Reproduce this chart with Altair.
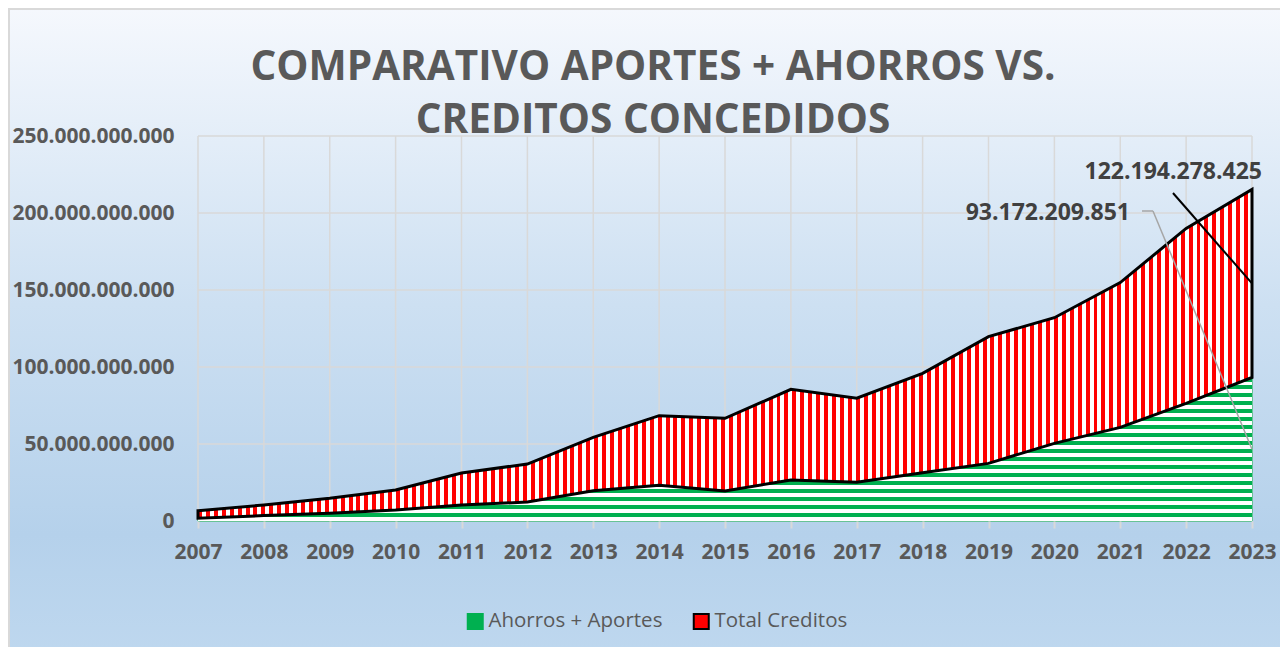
import altair as alt
import pandas as pd

# ---------------- data ----------------
years = list(range(2007, 2024))
ahorros_aportes = [1_800_000_000, 3_500_000_000, 5_000_000_000, 7_100_000_000,
                   10_400_000_000, 12_300_000_000, 19_700_000_000, 23_200_000_000,
                   19_500_000_000, 26_600_000_000, 25_100_000_000, 31_400_000_000,
                   37_400_000_000, 50_400_000_000, 60_800_000_000, 76_400_000_000,
                   93_172_209_851]
total_creditos = [4_900_000_000, 6_900_000_000, 9_700_000_000, 13_000_000_000,
                  20_800_000_000, 24_700_000_000, 34_600_000_000, 45_200_000_000,
                  47_200_000_000, 58_900_000_000, 54_600_000_000, 64_500_000_000,
                  82_300_000_000, 81_600_000_000, 94_000_000_000, 113_600_000_000,
                  122_194_278_425]
series_names = ["Ahorros + Aportes", "Total Creditos"]
y_ticks = [0, 50_000_000_000, 100_000_000_000, 150_000_000_000,
           200_000_000_000, 250_000_000_000]
title_lines = ["COMPARATIVO APORTES + AHORROS VS.", "CREDITOS CONCEDIDOS"]

df = pd.DataFrame({"year": years, "ahorros": ahorros_aportes, "creditos": total_creditos})

# ---------------- styles ----------------
GREEN = "#00b050"
RED = "#ff0000"
GRID = "#d9d9d9"
TXT = "#595959"
W, H = 1054, 385


def stripes(c1, c2, n, along_x):
    stops = []
    for i in range(n):
        a, b, c = i / n, (i + 0.5) / n, (i + 1) / n
        stops += [{"offset": a, "color": c1}, {"offset": b, "color": c1},
                  {"offset": b, "color": c2}, {"offset": c, "color": c2}]
    return {"gradient": "linear", "stops": stops,
            "x1": 0, "y1": 0, "x2": 1 if along_x else 0, "y2": 0 if along_x else 1}


red_fill = stripes(RED, "#ffffff", 133, True)
green_fill = stripes(GREEN, "#ffffff", 18, False)
bg_fill = {"gradient": "linear", "x1": 0, "y1": 0, "x2": 0, "y2": 1,
           "stops": [{"offset": 0, "color": "#f5f8fd"},
                     {"offset": 0.45, "color": "#cde0f2"},
                     {"offset": 0.8, "color": "#b5d1eb"},
                     {"offset": 1, "color": "#bfd8ef"}]}

xscale = alt.Scale(domain=[years[0], years[-1]], nice=False, zero=False)
yscale = alt.Scale(domain=[0, y_ticks[-1]], nice=False)
xaxis = alt.Axis(values=years, format="d", title=None, grid=False, domain=False,
                 ticks=True, tickColor=GRID, tickSize=7, tickWidth=2,
                 labelPadding=13, labelOverlap=False, labelFlush=False, zindex=1)
yaxis = alt.Axis(values=y_ticks, format=",d", title=None, grid=False, domain=False,
                 ticks=False, labelPadding=24, labelOverlap=False, labelFlush=False, zindex=1)


def X(field="year:Q"):
    return alt.X(field, scale=xscale, axis=xaxis)


def Y(field):
    return alt.Y(field, scale=yscale, axis=yaxis, stack=None)


legend = alt.Legend(title=None, orient="none", legendX=267, legendY=475,
                    direction="horizontal", symbolType="square", symbolSize=225,
                    symbolStrokeWidth=2, labelFont="Open Sans", labelFontSize=20.5,
                    labelColor=TXT, labelOffset=3, labelLimit=0, columnPadding=26)

fill_enc = alt.Fill("series:N", scale=alt.Scale(domain=series_names, range=[GREEN, RED]),
                    legend=legend)
stroke_enc = alt.Stroke("series:N", scale=alt.Scale(domain=series_names, range=[GREEN, "#000000"]),
                        legend=legend)

base = alt.Chart(df).transform_calculate(
    total="datum.ahorros + datum.creditos",
    red_mid="datum.ahorros + datum.creditos / 2",
    green_mid="datum.ahorros / 2",
)

# background of the whole chart
background = alt.Chart(alt.Data(values=[{}])).mark_rect(
    fill=bg_fill, stroke=GRID, strokeWidth=2
).encode(x=alt.value(-189), x2=alt.value(1100), y=alt.value(-127), y2=alt.value(530))

vgrid = alt.Chart(df).mark_rule(color=GRID, strokeWidth=1.5).encode(x=X())
hgrid = alt.Chart(pd.DataFrame({"v": y_ticks})).mark_rule(color=GRID, strokeWidth=1.5).encode(
    x=alt.value(0), x2=alt.value(W), y=Y("v:Q"))

green_solid = base.transform_calculate(series=f"'{series_names[0]}'").mark_area().encode(
    x=X(), y=Y("ahorros:Q"), fill=fill_enc, stroke=stroke_enc)
red_solid = base.transform_calculate(series=f"'{series_names[1]}'").mark_area().encode(
    x=X(), y=Y("total:Q"), y2="ahorros:Q", fill=fill_enc, stroke=stroke_enc)

green_striped = base.mark_area(fill=green_fill).encode(x=X(), y=Y("ahorros:Q"))
red_striped = base.mark_area(fill=red_fill, stroke="#000000", strokeWidth=3).encode(
    x=X(), y=Y("total:Q"), y2="ahorros:Q")

last = base.transform_filter(f"datum.year == {years[-1]}")

leader_red = last.mark_rule(color="#000000", strokeWidth=2).encode(
    x=X(), y=Y("red_mid:Q"), x2=alt.value(975), y2=alt.value(57))
leader_green_h = last.mark_rule(color="#a6a6a6", strokeWidth=1.5).encode(
    x=alt.value(944), x2=alt.value(955), y=alt.value(75))
leader_green = last.mark_rule(color="#a6a6a6", strokeWidth=1.5).encode(
    x=X(), y=Y("green_mid:Q"), x2=alt.value(955), y2=alt.value(75))

label_red = last.mark_text(font="Open Sans", fontWeight="bold", fontSize=23, color="#404040",
                           align="right", baseline="middle", dx=10).encode(
    x=X(), y=alt.value(36), text=alt.Text("creditos:Q", format=",d"))
label_green = last.mark_text(font="Open Sans", fontWeight="bold", fontSize=23, color="#404040",
                             align="right", baseline="middle", dx=-122).encode(
    x=X(), y=alt.value(77), text=alt.Text("ahorros:Q", format=",d"))

title1 = alt.Chart(pd.DataFrame({"t": [title_lines[0]]})).mark_text(
    font="Open Sans", fontWeight="bold", fontSize=40.5, color=TXT, align="center",
    baseline="alphabetic").encode(x=alt.value(455), y=alt.value(-56), text="t:N")
title2 = alt.Chart(pd.DataFrame({"t": [title_lines[1]]})).mark_text(
    font="Open Sans", fontWeight="bold", fontSize=40.5, color=TXT, align="center",
    baseline="alphabetic").encode(x=alt.value(455), y=alt.value(-3), text="t:N")

chart = alt.layer(
    background, vgrid, hgrid, green_solid, red_solid, green_striped, red_striped,
    leader_red, leader_green_h, leader_green, label_red, label_green, title1, title2
).properties(
    width=W, height=H,
    autosize=alt.AutoSizeParams(type="none"),
    padding={"left": 190, "top": 128, "right": 1272 - 190 - W, "bottom": 126},
).configure(
    font="Open Sans",
    locale={"number": {"decimal": ",", "thousands": ".", "grouping": [3],
                       "currency": ["$", ""]}},
).configure_axis(
    labelFont="Open Sans", labelFontWeight="bold", labelFontSize=21, labelColor=TXT,
).configure_view(stroke=None)

chart.save("out.html", embed_options={"renderer": "svg", "actions": False})
